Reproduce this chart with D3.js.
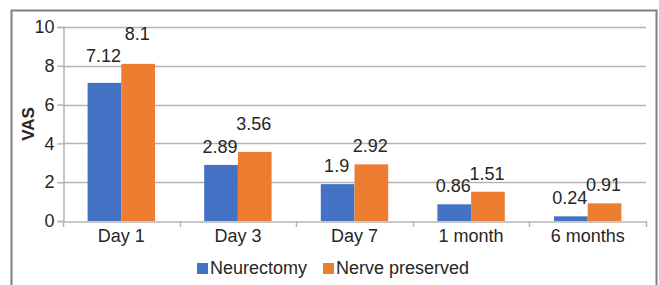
<!DOCTYPE html>
<html>
<head>
<meta charset="utf-8">
<script src="https://cdn.jsdelivr.net/npm/d3@7"></script>
<style>
  body { margin: 0; background: #fff; }
  text { font-family: "Liberation Sans", Arial, sans-serif; fill: #262626; }
</style>
</head>
<body>
<div id="chart"></div>
<script>
var categories = ["Day 1", "Day 3", "Day 7", "1 month", "6 months"];
var seriesNames = ["Neurectomy", "Nerve preserved"];
var neurectomy = [7.12, 2.89, 1.9, 0.86, 0.24];
var nervePreserved = [8.1, 3.56, 2.92, 1.51, 0.91];
var yTicks = [0, 2, 4, 6, 8, 10];

// extra lift for labels that were dragged up in the original
var liftNeur = [9, 0, 0, 0, 0];
var liftNerve = [12, 10, 0, 0, 0];

var colors = ["#4472C4", "#ED7D31"];

var width = 659, height = 285;
var margin = {left: 63, right: 13, top: 27, bottom: 64};

var svg = d3.select("#chart").append("svg")
  .attr("width", width)
  .attr("height", height);

// outer frame
svg.append("path")
  .attr("d", "M11.5," + height + "V10.5H656.5V" + height)
  .attr("fill", "none")
  .attr("stroke", "#7f7f7f")
  .attr("stroke-width", 2);

var x = d3.scaleBand()
  .domain(categories)
  .range([margin.left, width - margin.right])
  .paddingInner(0)
  .paddingOuter(0);

var y = d3.scaleLinear()
  .domain([0, 10])
  .range([height - margin.bottom, margin.top]);

var x1 = d3.scaleBand()
  .domain(seriesNames)
  .range([0, x.bandwidth()])
  .paddingInner(0)
  .paddingOuter(0.73);

// grid lines
svg.append("g")
  .selectAll("line")
  .data(yTicks.slice(1))
  .enter().append("line")
  .attr("x1", margin.left)
  .attr("x2", width - margin.right)
  .attr("y1", function(d) { return Math.round(y(d)) + 0.5; })
  .attr("y2", function(d) { return Math.round(y(d)) + 0.5; })
  .attr("stroke", "#b4b4b4")
  .attr("stroke-width", 1.5);

// y axis
var yAxis = svg.append("g")
  .attr("transform", "translate(" + (margin.left + 0.5) + ",0)")
  .call(d3.axisLeft(y).tickValues(yTicks).tickSize(6).tickPadding(3));
yAxis.select(".domain").attr("stroke", "#b4b4b4").attr("stroke-width", 1.5);
yAxis.selectAll(".tick line").attr("stroke", "#b4b4b4").attr("stroke-width", 1.5);
yAxis.selectAll(".tick text")
  .attr("font-size", 18)
  .attr("font-family", "Liberation Sans, Arial, sans-serif")
  .attr("fill", "#262626");

var rows = categories.map(function(c, i) {
  return {cat: c, vals: [neurectomy[i], nervePreserved[i]], lift: [liftNeur[i], liftNerve[i]]};
});

var groups = svg.append("g")
  .selectAll("g")
  .data(rows)
  .enter().append("g")
  .attr("transform", function(d) { return "translate(" + x(d.cat) + ",0)"; });

groups.selectAll("rect")
  .data(function(d) { return d.vals.map(function(v, j) { return {v: v, s: seriesNames[j], j: j}; }); })
  .enter().append("rect")
  .attr("x", function(d) { return x1(d.s); })
  .attr("width", x1.bandwidth())
  .attr("y", function(d) { return y(d.v); })
  .attr("height", function(d) { return y(0) - y(d.v); })
  .attr("fill", function(d) { return colors[d.j]; });

groups.selectAll("text.lbl")
  .data(function(d) { return d.vals.map(function(v, j) { return {v: v, s: seriesNames[j], lift: d.lift[j]}; }); })
  .enter().append("text")
  .attr("class", "lbl")
  .attr("x", function(d) { return x1(d.s) + x1.bandwidth() / 2 - 1; })
  .attr("y", function(d) { return y(d.v) - 12 - d.lift; })
  .attr("text-anchor", "middle")
  .attr("font-size", 18)
  .text(function(d) { return d.v; });

// x axis
var xAxis = svg.append("g")
  .attr("transform", "translate(0," + (y(0) + 0.5) + ")")
  .call(d3.axisBottom(x).tickSize(0).tickPadding(8));
xAxis.select(".domain").attr("stroke", "#b4b4b4").attr("stroke-width", 1.5);
xAxis.selectAll(".tick text")
  .attr("font-size", 18)
  .attr("font-family", "Liberation Sans, Arial, sans-serif")
  .attr("fill", "#262626");

// category boundary ticks
var bounds = categories.map(function(c) { return x(c); }).concat([x.range()[1]]);
svg.append("g")
  .selectAll("line")
  .data(bounds)
  .enter().append("line")
  .attr("x1", function(d) { return Math.round(d) + 0.5; })
  .attr("x2", function(d) { return Math.round(d) + 0.5; })
  .attr("y1", y(0))
  .attr("y2", y(0) + 6)
  .attr("stroke", "#b4b4b4")
  .attr("stroke-width", 1.5);

// y axis title
svg.append("text")
  .attr("transform", "translate(34," + ((y(0) + y(10)) / 2) + ") rotate(-90)")
  .attr("text-anchor", "middle")
  .attr("font-size", 17)
  .attr("font-weight", "bold")
  .text("VAS");

// legend
var legendX = [197, 323];
var legend = svg.append("g")
  .selectAll("g")
  .data(seriesNames)
  .enter().append("g")
  .attr("transform", function(d, i) { return "translate(" + legendX[i] + ",263)"; });
legend.append("rect")
  .attr("width", 11)
  .attr("height", 11)
  .attr("fill", function(d, i) { return colors[i]; });
legend.append("text")
  .attr("x", 13)
  .attr("y", 11)
  .attr("font-size", 18)
  .text(function(d) { return d; });
</script>
</body>
</html>
